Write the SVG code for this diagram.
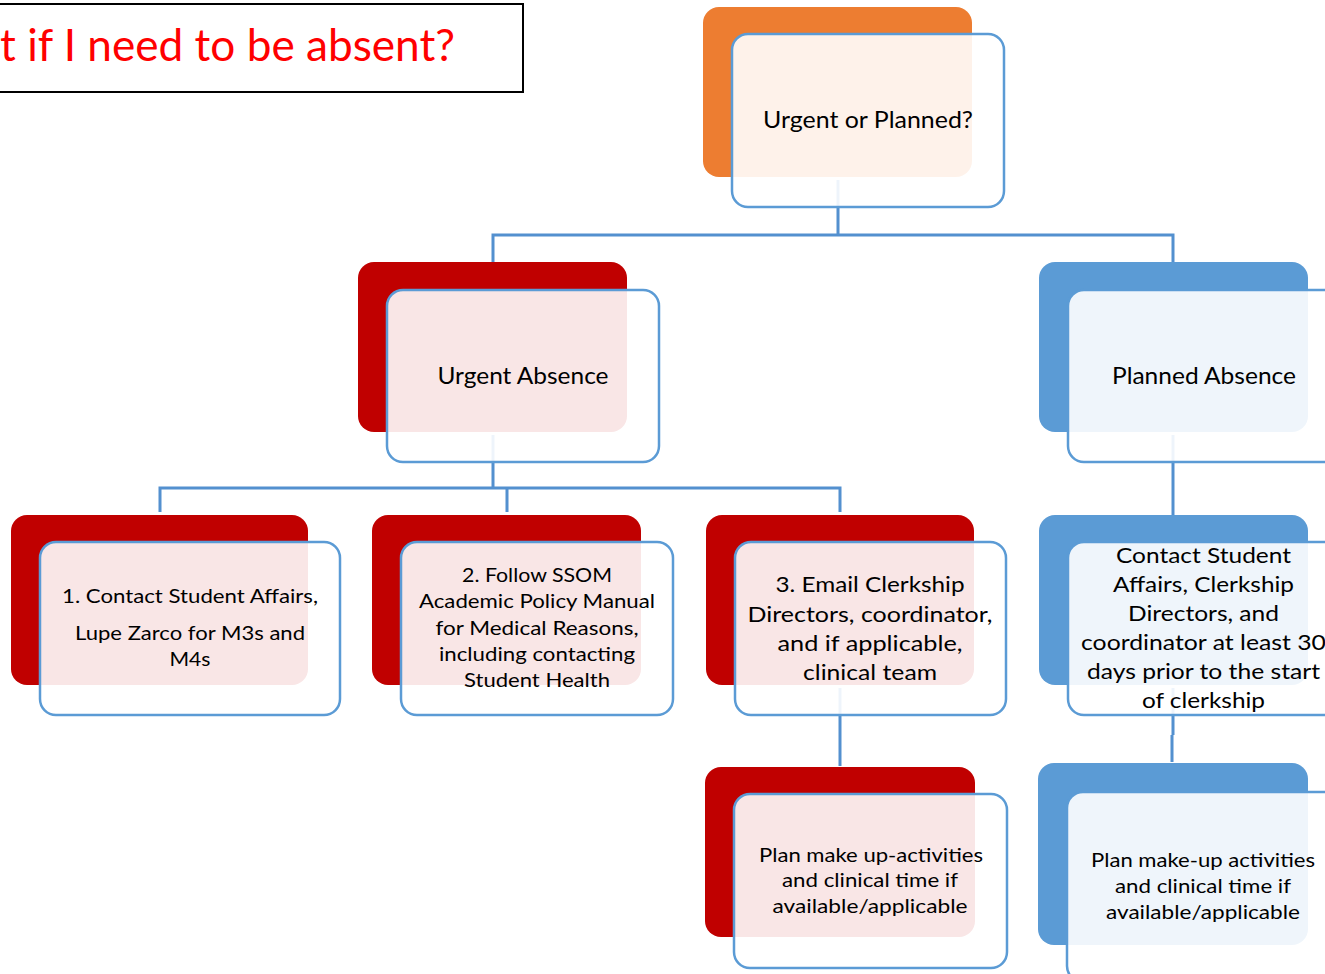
<svg xmlns="http://www.w3.org/2000/svg" width="1325" height="974" viewBox="0 0 1325 974">
<style>
.bg{fill:#ffffff}
.or{fill:#ED7D31}
.rd{fill:#C00000}
.bl{fill:#5B9BD5}
.fr{fill:#ffffff;fill-opacity:0.9;stroke:#5B9BD5;stroke-width:2.5}
.t{font-family:Lato,"Liberation Sans",sans-serif;fill:#000000;text-anchor:middle}
.X{font-size:24px}
.L{font-size:22px}
.S{font-size:20px}
.con{fill:none;stroke:#5390CF;stroke-width:3}
</style>
<rect class="bg" x="0" y="0" width="1325" height="974"/>
<g id="title">
<rect x="-10" y="4" width="533" height="88" fill="#ffffff" stroke="#000000" stroke-width="2"/>
<text x="0" y="61" font-family="Lato,'Liberation Sans',sans-serif" font-size="44" fill="#FF0000" textLength="455" lengthAdjust="spacingAndGlyphs">t if I need to be absent?</text>
</g>
<g id="connectors">
<path class="con" d="M838,180 V235 M493,235 H1173 M493,233.5 V262 M1173,233.5 V262"/>
<path class="con" d="M493,435 V488 M160,488 H840 M160,486.5 V512 M507,486.5 V512 M840,486.5 V512"/>
<path class="con" d="M1173,435 V515"/>
<path class="con" d="M840,688 V766"/>
<path class="con" d="M1173,688 V735 M1172,735 V762"/>
</g>
<g id="n-top">
<rect class="or" x="703" y="7" width="269" height="170" rx="16"/>
<rect class="fr" x="732" y="34" width="272" height="173" rx="16"/>
<text class="t X" x="868" y="128" textLength="210" lengthAdjust="spacingAndGlyphs">Urgent or Planned?</text>
</g>
<g id="n-urgent">
<rect class="rd" x="358" y="262" width="269" height="170" rx="16"/>
<rect class="fr" x="387" y="290" width="272" height="172" rx="16"/>
<text class="t X" x="523" y="384" textLength="171" lengthAdjust="spacingAndGlyphs">Urgent Absence</text>
</g>
<g id="n-planned">
<rect class="bl" x="1039" y="262" width="269" height="170" rx="16"/>
<rect class="fr" x="1068" y="290" width="272" height="172" rx="16"/>
<text class="t X" x="1204" y="384" textLength="184" lengthAdjust="spacingAndGlyphs">Planned Absence</text>
</g>
<g id="n-u1">
<rect class="rd" x="11" y="515" width="297" height="170" rx="16"/>
<rect class="fr" x="40" y="542" width="300" height="173" rx="16"/>
<text class="t S" x="190" y="603" textLength="256" lengthAdjust="spacingAndGlyphs">1. Contact Student Affairs,</text>
<text class="t S" x="190" y="640" textLength="230" lengthAdjust="spacingAndGlyphs">Lupe Zarco for M3s and</text>
<text class="t S" x="190" y="666" textLength="41" lengthAdjust="spacingAndGlyphs">M4s</text>
</g>
<g id="n-u2">
<rect class="rd" x="372" y="515" width="269" height="170" rx="16"/>
<rect class="fr" x="401" y="542" width="272" height="173" rx="16"/>
<text class="t S" x="537" y="582" textLength="150" lengthAdjust="spacingAndGlyphs">2. Follow SSOM</text>
<text class="t S" x="537" y="608" textLength="236" lengthAdjust="spacingAndGlyphs">Academic Policy Manual</text>
<text class="t S" x="537" y="635" textLength="203" lengthAdjust="spacingAndGlyphs">for Medical Reasons,</text>
<text class="t S" x="537" y="661" textLength="196" lengthAdjust="spacingAndGlyphs">including contacting</text>
<text class="t S" x="537" y="687" textLength="146" lengthAdjust="spacingAndGlyphs">Student Health</text>
</g>
<g id="n-u3">
<rect class="rd" x="706" y="515" width="268" height="170" rx="16"/>
<rect class="fr" x="735" y="542" width="271" height="173" rx="16"/>
<text class="t L" x="870" y="592" textLength="189" lengthAdjust="spacingAndGlyphs">3. Email Clerkship</text>
<text class="t L" x="870" y="622" textLength="245" lengthAdjust="spacingAndGlyphs">Directors, coordinator,</text>
<text class="t L" x="870" y="651" textLength="185" lengthAdjust="spacingAndGlyphs">and if applicable,</text>
<text class="t L" x="870" y="680" textLength="134" lengthAdjust="spacingAndGlyphs">clinical team</text>
</g>
<g id="n-p1">
<rect class="bl" x="1039" y="515" width="269" height="170" rx="16"/>
<rect class="fr" x="1068" y="542" width="272" height="173" rx="16"/>
<text class="t L" x="1203.5" y="563" textLength="175" lengthAdjust="spacingAndGlyphs">Contact Student</text>
<text class="t L" x="1203.5" y="592" textLength="181" lengthAdjust="spacingAndGlyphs">Affairs, Clerkship</text>
<text class="t L" x="1203.5" y="621" textLength="151" lengthAdjust="spacingAndGlyphs">Directors, and</text>
<text class="t L" x="1203.5" y="650" textLength="245" lengthAdjust="spacingAndGlyphs">coordinator at least 30</text>
<text class="t L" x="1203.5" y="679" textLength="233" lengthAdjust="spacingAndGlyphs">days prior to the start</text>
<text class="t L" x="1203.5" y="708" textLength="123" lengthAdjust="spacingAndGlyphs">of clerkship</text>
</g>
<g id="n-u4">
<rect class="rd" x="705" y="767" width="270" height="170" rx="16"/>
<rect class="fr" x="734" y="794" width="273" height="174" rx="16"/>
<text class="t S" x="871" y="862" textLength="224" lengthAdjust="spacingAndGlyphs">Plan make up-activities</text>
<text class="t S" x="870" y="887" textLength="176" lengthAdjust="spacingAndGlyphs">and clinical time if</text>
<text class="t S" x="870" y="913" textLength="195" lengthAdjust="spacingAndGlyphs">available/applicable</text>
</g>
<g id="n-p2">
<rect class="bl" x="1038" y="763" width="270" height="182" rx="16"/>
<rect class="fr" x="1067" y="792" width="273" height="190" rx="16"/>
<text class="t S" x="1203" y="867" textLength="224" lengthAdjust="spacingAndGlyphs">Plan make-up activities</text>
<text class="t S" x="1203" y="893" textLength="176" lengthAdjust="spacingAndGlyphs">and clinical time if</text>
<text class="t S" x="1203" y="919" textLength="194" lengthAdjust="spacingAndGlyphs">available/applicable</text>
</g>
</svg>
